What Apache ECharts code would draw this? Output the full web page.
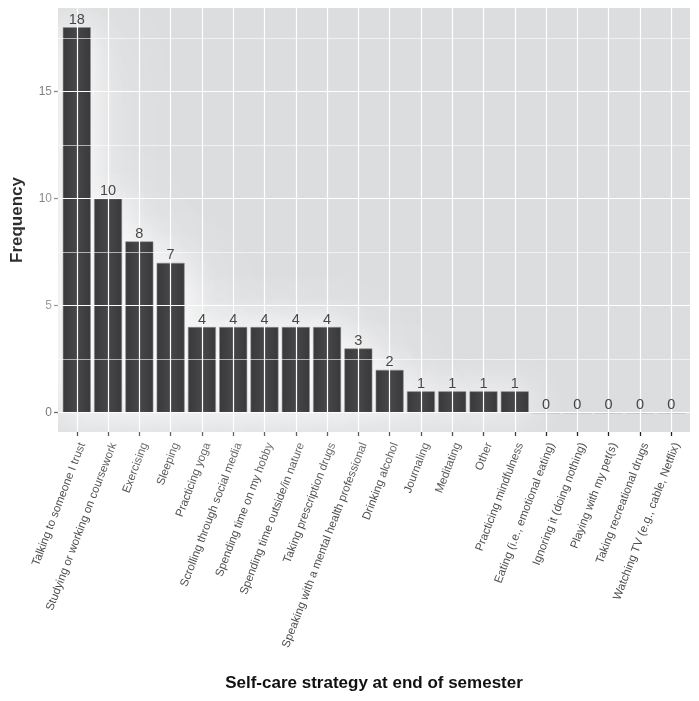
<!DOCTYPE html>
<html>
<head>
<meta charset="utf-8">
<script src="https://cdn.jsdelivr.net/npm/echarts@6/dist/echarts.min.js"></script>
<style>
html,body{margin:0;padding:0;background:#fff;}
#c{width:699px;height:701px;}
</style>
</head>
<body>
<div id="c"></div>
<script>
const categories = [
  "Talking to someone I trust",
  "Studying or working on coursework",
  "Exercising",
  "Sleeping",
  "Practicing yoga",
  "Scrolling through social media",
  "Spending time on my hobby",
  "Spending time outside/in nature",
  "Taking prescription drugs",
  "Speaking with a mental health professional",
  "Drinking alcohol",
  "Journaling",
  "Meditating",
  "Other",
  "Practicing mindfulness",
  "Eating (i.e., emotional eating)",
  "Ignoring it (doing nothing)",
  "Playing with my pet(s)",
  "Taking recreational drugs",
  "Watching TV (e.g., cable, Netflix)"
];
const frequency = [18, 10, 8, 7, 4, 4, 4, 4, 4, 3, 2, 1, 1, 1, 1, 0, 0, 0, 0, 0];
const yMajorTicks = [0, 5, 10, 15];
const yMinorTicks = [2.5, 7.5, 12.5, 17.5];

const idx = categories.map((c, i) => i);
const barData = frequency.map((v, i) => [i, v]);
const FONT = "Liberation Sans";

const chart = echarts.init(document.getElementById('c'), null, {renderer: 'canvas'});

const gridLines = [];
yMajorTicks.forEach(v => gridLines.push({yAxis: v, lineStyle: {width: 1.2}}));
yMinorTicks.forEach(v => gridLines.push({yAxis: v, lineStyle: {width: 0.6}}));
idx.forEach(i => gridLines.push({xAxis: i, lineStyle: {width: 1.2}}));

chart.setOption({
  animation: false,
  textStyle: {fontFamily: FONT},
  grid: {
    left: 58, right: 9, top: 8, bottom: 269,
    containLabel: false, outerBoundsMode: 'none',
    show: true, backgroundColor: '#dcdddf', borderWidth: 0
  },
  xAxis: {
    type: 'value', min: -0.6, max: 19.6,
    name: 'Self-care strategy at end of semester',
    nameLocation: 'middle', nameGap: 243,
    nameTextStyle: {fontSize: 17, fontWeight: 'bold', color: '#111', fontFamily: FONT},
    splitLine: {show: false},
    axisLine: {show: true, onZero: false, lineStyle: {color: 'rgba(0,0,0,0)'}},
    axisTick: {show: true, inside: false, customValues: idx, length: 4, lineStyle: {color: '#222222', width: 1.3}},
    axisLabel: {
      customValues: idx, rotate: 69, fontSize: 11.5, color: '#4d4d4d', margin: 9,
      verticalAlign: 'top',
      fontFamily: FONT,
      formatter: v => categories[Math.round(v)]
    }
  },
  yAxis: {
    type: 'value', min: -0.9, max: 18.9,
    name: 'Frequency', nameLocation: 'middle', nameGap: 32,
    nameTextStyle: {fontSize: 17, fontWeight: 'bold', color: '#111', fontFamily: FONT},
    splitLine: {show: false},
    axisLine: {show: true, onZero: false, lineStyle: {color: 'rgba(0,0,0,0)'}},
    axisTick: {show: true, inside: false, customValues: yMajorTicks, length: 4, lineStyle: {color: '#222222', width: 1.3}},
    axisLabel: {customValues: yMajorTicks, fontSize: 12, color: '#4d4d4d', margin: 6, fontFamily: FONT}
  },
  series: [
    {
      type: 'line', data: [], z: 1, silent: true,
      markLine: {
        silent: true, symbol: ['none', 'none'], label: {show: false},
        lineStyle: {color: '#ffffff', type: 'solid'},
        data: gridLines
      }
    },
    {
      name: 'glowWide', type: 'bar', data: barData, barWidth: 28, z: 2, silent: true,
      itemStyle: {color: '#ffffff', shadowBlur: 90, shadowColor: 'rgba(255,255,255,1)'}
    },
    {
      name: 'glowNear', type: 'bar', data: barData, barWidth: 28, barGap: '-100%', z: 2, silent: true,
      itemStyle: {color: '#ffffff', shadowBlur: 35, shadowColor: 'rgba(255,255,255,1)'}
    },
    {
      name: 'bars', type: 'bar', data: barData, barWidth: 28, barGap: '-100%', z: 3,
      itemStyle: {
        color: {
          type: 'linear', x: 0, y: 0, x2: 1, y2: 0,
          colorStops: [{offset: 0, color: '#39393b'}, {offset: 0.5, color: '#47474a'}, {offset: 1, color: '#39393b'}]
        },
        borderColor: '#8a8a8a', borderWidth: 0.6
      }
    },
    {
      name: 'values', type: 'scatter', data: barData, z: 10, symbolSize: 0.01, silent: true,
      itemStyle: {color: '#1a1a1a'},
      label: {
        show: true, position: 'top', distance: 0, fontSize: 14.5, color: '#1a1a1a',
        fontWeight: 'normal',
        fontFamily: 'Liberation Sans, Arial, sans-serif',
        formatter: p => String(p.value[1])
      }
    }
  ]
});
</script>
</body>
</html>
